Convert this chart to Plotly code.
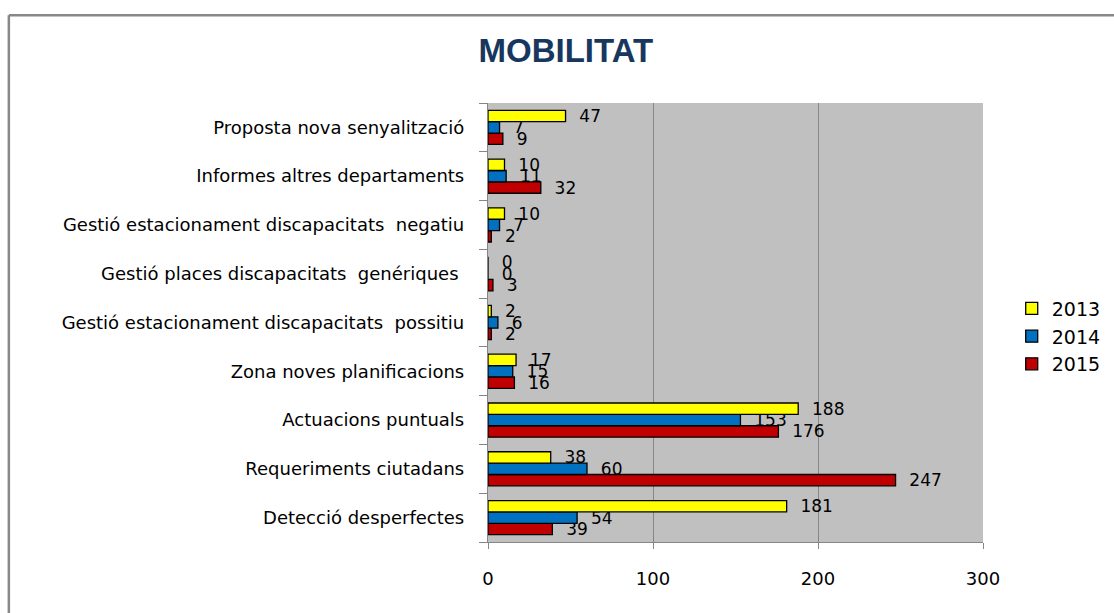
import plotly.graph_objects as go

categories = [
    "Detecció desperfectes",
    "Requeriments ciutadans",
    "Actuacions puntuals",
    "Zona noves planificacions",
    "Gestió estacionament discapacitats  possitiu",
    "Gestió places discapacitats  genériques ",
    "Gestió estacionament discapacitats  negatiu",
    "Informes altres departaments",
    "Proposta nova senyalització",
]
v2013 = [181, 38, 188, 17, 2, 0, 10, 10, 47]
v2014 = [54, 60, 153, 15, 6, 0, 7, 11, 7]
v2015 = [39, 247, 176, 16, 2, 3, 2, 32, 9]
x_ticks = [0, 100, 200, 300]

series = [("2015", v2015, "#C00000"), ("2014", v2014, "#0070C0"), ("2013", v2013, "#FFFF00")]

FONT = "DejaVu Sans"
fig = go.Figure()
for name, vals, col in series:
    fig.add_trace(go.Bar(
        y=categories, x=vals, name=name, orientation="h",
        marker=dict(color=col, line=dict(color="black", width=1.3)),
        text=vals, texttemplate="  %{x}", textposition="outside", constraintext="none",
        textfont=dict(family=FONT, size=17, color="black"),
        cliponaxis=False, legendgroup=name,
    ))

fig.update_layout(
    width=1114, height=613,
    barmode="group", bargap=0.3, bargroupgap=0,
    paper_bgcolor="white", plot_bgcolor="#C0C0C0",
    margin=dict(l=488, r=131, t=103, b=71, autoexpand=False),
    title=dict(text="<b>MOBILITAT</b>", x=0.508, xanchor="center", y=0.918, yanchor="middle",
               font=dict(family="Liberation Sans", size=33, color="#17375E")),
    legend=dict(x=1.058, y=0.575, xanchor="left", yanchor="top", traceorder="reversed",
                tracegroupgap=18, font=dict(family=FONT, size=19, color="black"),
                bgcolor="rgba(0,0,0,0)"),
    showlegend=True,
)
fig.update_xaxes(range=[0, 300], tickvals=x_ticks, showgrid=True, gridcolor="#868686", gridwidth=1.3,
                 zeroline=False, showline=True, linecolor="#868686", linewidth=1.3,
                 ticks="outside", ticklen=6, tickcolor="#868686",
                 tickfont=dict(family=FONT, size=18, color="black"), ticklabelstandoff=14)
fig.update_yaxes(categoryorder="array", categoryarray=categories, showline=True, linecolor="#868686",
                 linewidth=1.3, ticks="outside", ticklen=8, tickcolor="#868686", tickson="boundaries",
                 tickfont=dict(family=FONT, size=18, color="black"), ticklabelstandoff=19, showgrid=False)

fig.add_shape(type="line", xref="paper", yref="paper", x0=-0.968, x1=1.3, y0=1.2, y1=1.2,
              line=dict(color="#888888", width=2.5))
fig.add_shape(type="line", xref="paper", yref="paper", x0=-0.968, x1=-0.968, y0=1.2, y1=-0.2,
              line=dict(color="#888888", width=2.5))

fig.write_html("out.html", config={"displayModeBar": False},
               post_script="document.body.style.margin='0';document.body.style.overflow='hidden';")
